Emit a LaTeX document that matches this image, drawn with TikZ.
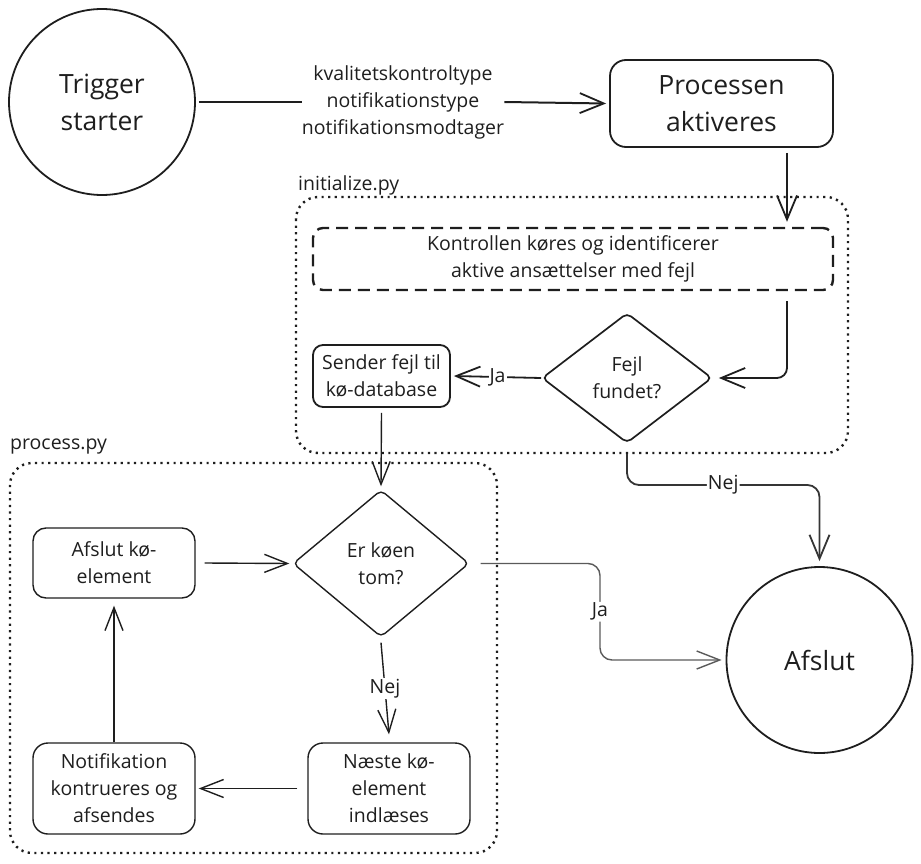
\documentclass[tikz,border=0pt]{standalone}
\usepackage{fontspec}
\setmainfont{Open Sans}
\usetikzlibrary{shapes.geometric,arrows.meta,calc}
\definecolor{ink}{HTML}{1E1E1E}
\definecolor{greyline}{HTML}{5A5A5A}
\tikzset{
  txt/.style={font=\fontsize{19.5}{27}\selectfont, text=ink, align=center},
  bigtxt/.style={font=\fontsize{26.5}{37}\selectfont, text=ink, align=center},
  rbox/.style={draw=ink, line width=1.8pt, rounded corners=12pt, inner sep=0pt, txt},
  pbox/.style={draw=ink, line width=1.4pt, rounded corners=15pt, inner sep=0pt, txt},
  dia/.style={diamond, draw=ink, line width=1.7pt, inner sep=0pt, rounded corners=5pt, txt},
  arr/.style={draw=ink, line width=1.8pt, -{Straight Barb[length=24pt,width=20pt,line width=1.8pt]}},
  parr/.style={draw=ink, line width=1.4pt, -{Straight Barb[length=23pt,width=18pt,line width=1.4pt]}},
  lbl/.style={fill=white, inner sep=1pt, font=\fontsize{19.5}{22}\selectfont, text=ink},
  grp/.style={draw=ink, line width=2.4pt, dash pattern=on 2.2pt off 4.4pt, rounded corners=22pt},
  grplabel/.style={font=\fontsize{19.5}{22}\selectfont, text=ink, anchor=west, inner sep=0pt},
}
\begin{document}
\begin{tikzpicture}[x=1pt,y=-1pt]
\useasboundingbox (0,0) rectangle (921,864);

% groups
\draw[grp] (296,197) rectangle (848,453);
\node[grplabel] (initlbl) at (298,185) {initialize.py};
\draw[grp] (10,463) rectangle (497,853);
\node[grplabel] (proclbl) at (10,447) {process.py};

% nodes
\node[circle, draw=ink, line width=1.8pt, minimum size=186pt, inner sep=0pt, bigtxt] (trig) at (102,102) {Trigger\\starter};
\node[txt, minimum width=200pt, inner sep=0pt] (params) at (403,102) {kvalitetskontroltype\\notifikationstype\\notifikationsmodtager};
\node[rbox, bigtxt, rounded corners=16pt, minimum width=223pt, minimum height=87pt] (proc) at (721.5,103.5) {Processen\\aktiveres};

\node[draw=ink, line width=2.4pt, dash pattern=on 12pt off 7pt, rounded corners=10pt, minimum width=520pt, minimum height=62pt, inner sep=0pt, txt] (kon) at (573,259) {Kontrollen køres og identificerer\\aktive ansættelser med fejl};

\node[dia, minimum width=170pt, minimum height=130pt] (fejl) at (627,378) {Fejl\\fundet?};
\node[rbox, rounded corners=10pt, minimum width=137pt, minimum height=62pt] (send) at (381.5,376) {Sender fejl til\\kø-database};

\node[dia, line width=1.4pt, minimum width=176pt, minimum height=147pt] (er) at (381,563.5) {Er køen\\tom?};
\node[pbox, rounded corners=13pt, minimum width=162pt, minimum height=70pt] (ak) at (114,563) {Afslut kø-\\element};
\node[pbox, minimum width=162pt, minimum height=91pt] (naeste) at (389,788.5) {Næste kø-\\element\\indlæses};
\node[pbox, minimum width=162pt, minimum height=91pt] (notif) at (114,788.5) {Notifikation\\kontrueres og\\afsendes};

\node[circle, draw=ink, line width=1.8pt, minimum size=186pt, inner sep=0pt, bigtxt] (afs) at (819.5,660) {Afslut};

\coordinate (jx) at (600,0);
\coordinate (ny) at (0,485);

% connectors
\draw[ink, line width=2pt] ([xshift=3pt]trig.east) -- (params.west);
\draw[arr, line width=2pt] (params.east) -- ([xshift=-3pt]proc.west);
\draw[arr, line width=2pt] ([xshift=65.5pt,yshift=-5pt]proc.south) -- ([xshift=214pt,yshift=5pt]kon.north);
\draw[arr, rounded corners=10pt] ([xshift=214pt,yshift=-10pt]kon.south) |- ([xshift=6pt]fejl.east);
\draw[arr] (fejl.west) -- node[lbl] {Ja} ([xshift=3pt]send.east);
\draw[parr] ([yshift=-5pt]send.south) -- ([yshift=3pt]er.north);
\draw[arr, draw=ink!90, rounded corners=12pt] ([yshift=-10pt]fejl.south) -- (fejl.south |- ny) -- node[lbl] {Nej} (afs.north |- ny) -- ([yshift=5pt]afs.north);
\draw[parr, draw=greyline, rounded corners=12pt] ([xshift=11pt]er.east) -- (er.east -| jx) -- node[lbl] {Ja} (afs.west -| jx) -- ([xshift=-4pt]afs.west);
\draw[parr] ([xshift=9pt]ak.east) -- ([xshift=-3pt]er.west);
\draw[parr] ([yshift=-5pt]er.south) -- node[lbl] {Nej} ([yshift=8pt]naeste.north);
\draw[parr] ([xshift=-10pt]naeste.west) -- ([xshift=3pt]notif.east);
\draw[parr] (notif.north) -- ([yshift=-7pt]ak.south);
\end{tikzpicture}
\end{document}
